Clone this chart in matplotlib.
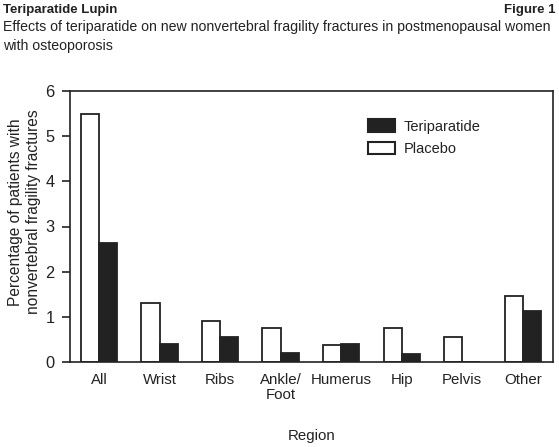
import numpy as np
import matplotlib
matplotlib.use("Agg")
import matplotlib.pyplot as plt
from matplotlib.patches import Patch

plt.rcParams["font.family"] = ["Liberation Sans", "DejaVu Sans"]

regions = ["All", "Wrist", "Ribs", "Ankle/\nFoot", "Humerus", "Hip", "Pelvis", "Other"]
placebo = [5.5, 1.30, 0.91, 0.75, 0.375, 0.75, 0.55, 1.46]
teriparatide = [2.63, 0.40, 0.56, 0.20, 0.39, 0.18, 0.0, 1.13]
yticks = [0, 1, 2, 3, 4, 5, 6]

ink = "#222222"
x = np.arange(len(regions))
w = 0.3
fs = 10.8

fig = plt.figure(figsize=(5.59, 4.47), dpi=100)
ax = fig.add_axes([70 / 559, 85 / 447, 483 / 559, 271 / 447])

ax.bar(x - w / 2, placebo, w, color="white", edgecolor=ink, linewidth=1.3)
ax.bar(x + w / 2, teriparatide, w, color=ink, edgecolor=ink, linewidth=1.3)

ax.set_xlim(-0.48, 7.5)
ax.set_ylim(0, 6)
ax.set_yticks(yticks)
ax.set_xticks(x)
ax.set_xticklabels(regions, fontsize=fs, color=ink, va="top", linespacing=1.1)
ax.tick_params(axis="x", length=0, pad=8)
ax.tick_params(axis="y", direction="out", length=6, width=1.2, color=ink,
               labelsize=fs + 1, labelcolor=ink, pad=5)
for s in ax.spines.values():
    s.set_color(ink)
    s.set_linewidth(1.2)

ax.set_ylabel("Percentage of patients with\nnonvertebral fragility fractures",
              fontsize=fs + 0.4, color=ink, labelpad=3, linespacing=1.3,
              y=0.553)
ax.set_xlabel("Region", fontsize=fs, color=ink, labelpad=19)

handles = [Patch(facecolor=ink, edgecolor=ink, linewidth=1.5),
           Patch(facecolor="white", edgecolor=ink, linewidth=1.5)]
ax.legend(handles, ["Teriparatide", "Placebo"], loc="upper left",
          bbox_to_anchor=(0.617, 0.895), frameon=False, fontsize=10.5,
          borderpad=0, borderaxespad=0,
          handlelength=1.85, handleheight=0.9, handletextpad=0.6,
          labelspacing=0.6, labelcolor=ink)

fig.text(0.006, 0.992, "Teriparatide Lupin", fontsize=9.5, fontweight="bold",
         color=ink, va="top", ha="left")
fig.text(0.994, 0.992, "Figure 1", fontsize=9.5, fontweight="bold",
         color=ink, va="top", ha="right")
fig.text(0.006, 0.955, "Effects of teriparatide on new nonvertebral fragility "
         "fractures in postmenopausal women\nwith osteoporosis", fontsize=10.2,
         color=ink, va="top", ha="left", linespacing=1.4)

fig.savefig("out.png", dpi=100)
